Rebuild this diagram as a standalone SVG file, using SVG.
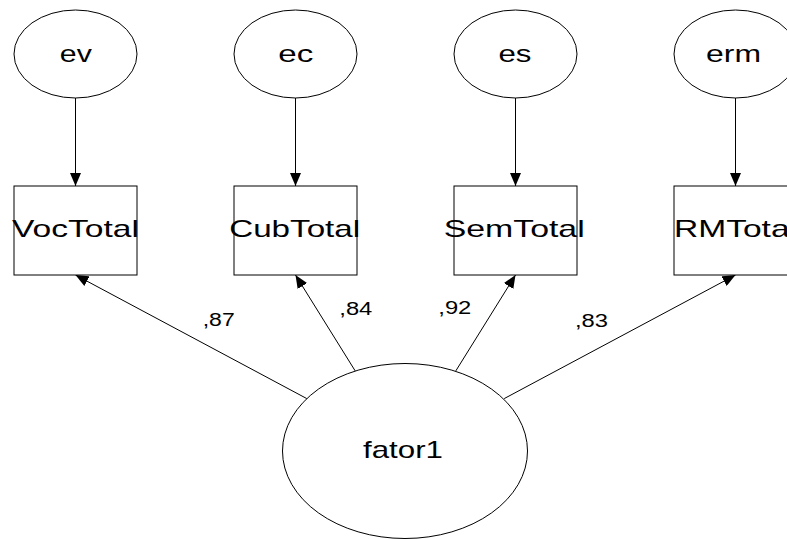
<svg xmlns="http://www.w3.org/2000/svg" width="787" height="539" viewBox="0 0 787 539">
<style>
.shape{fill:#fff;stroke:#000;stroke-width:1}
.lbl{font-family:"Liberation Sans",Arial,sans-serif;font-size:24px;fill:#000;text-anchor:middle}
.coef{font-family:"Liberation Sans",Arial,sans-serif;font-size:17.5px;fill:#000}
.edge{stroke:#000;stroke-width:1;fill:none;marker-end:url(#arr)}
</style>
<defs>
<marker id="arr" markerUnits="userSpaceOnUse" markerWidth="13" markerHeight="11" refX="13" refY="5.5" orient="auto">
<path d="M0,0 L13,5.5 L0,11 z" fill="#000"/>
</marker>
</defs>
<rect width="787" height="539" fill="#fff"/>
<g id="connectors">
<line class="edge" x1="75.5" y1="98" x2="75.5" y2="186"/>
<line class="edge" x1="295.5" y1="98" x2="295.5" y2="186"/>
<line class="edge" x1="515.5" y1="98" x2="515.5" y2="186"/>
<line class="edge" x1="735.5" y1="98" x2="735.5" y2="186"/>
<line class="edge" x1="306.8" y1="398.6" x2="75.5" y2="275"/>
<line class="edge" x1="355.2" y1="370.9" x2="295.5" y2="275"/>
<line class="edge" x1="455.8" y1="370.9" x2="515.5" y2="275"/>
<line class="edge" x1="504.2" y1="398.6" x2="735.5" y2="275"/>
<text class="coef" x="202.7" y="326" textLength="32" lengthAdjust="spacingAndGlyphs">,87</text>
<text class="coef" x="339.3" y="315" textLength="33" lengthAdjust="spacingAndGlyphs">,84</text>
<text class="coef" x="438.3" y="314" textLength="33" lengthAdjust="spacingAndGlyphs">,92</text>
<text class="coef" x="575" y="326.5" textLength="33" lengthAdjust="spacingAndGlyphs">,83</text>
</g>
<g id="ev"><ellipse class="shape" cx="75.5" cy="54" rx="61.5" ry="44"/><text class="lbl" x="75.8" y="61.7" textLength="32" lengthAdjust="spacingAndGlyphs">ev</text></g>
<g id="ec"><ellipse class="shape" cx="295.5" cy="54" rx="61.5" ry="44"/><text class="lbl" x="295.8" y="61.7" textLength="35" lengthAdjust="spacingAndGlyphs">ec</text></g>
<g id="es"><ellipse class="shape" cx="515.5" cy="54" rx="61.5" ry="44"/><text class="lbl" x="515" y="61.7" textLength="33" lengthAdjust="spacingAndGlyphs">es</text></g>
<g id="erm"><ellipse class="shape" cx="735.5" cy="54" rx="61.5" ry="44"/><text class="lbl" x="733.5" y="61.7" textLength="55" lengthAdjust="spacingAndGlyphs">erm</text></g>
<g id="VocTotal"><rect class="shape" x="14" y="186" width="123" height="89"/><text class="lbl" x="75.5" y="236.7" textLength="127" lengthAdjust="spacingAndGlyphs">VocTotal</text></g>
<g id="CubTotal"><rect class="shape" x="234" y="186" width="123" height="89"/><text class="lbl" x="294.7" y="236.7" textLength="131" lengthAdjust="spacingAndGlyphs">CubTotal</text></g>
<g id="SemTotal"><rect class="shape" x="454" y="186" width="123" height="89"/><text class="lbl" x="514.2" y="236.7" textLength="141" lengthAdjust="spacingAndGlyphs">SemTotal</text></g>
<g id="RMTotal"><rect class="shape" x="674" y="186" width="123" height="89"/><text class="lbl" x="735.5" y="236.7" textLength="123" lengthAdjust="spacingAndGlyphs">RMTotal</text></g>
<g id="fator1"><ellipse class="shape" cx="405" cy="451" rx="122.5" ry="87.5"/><text class="lbl" x="403" y="458" textLength="80" lengthAdjust="spacingAndGlyphs">fator1</text></g>
</svg>
